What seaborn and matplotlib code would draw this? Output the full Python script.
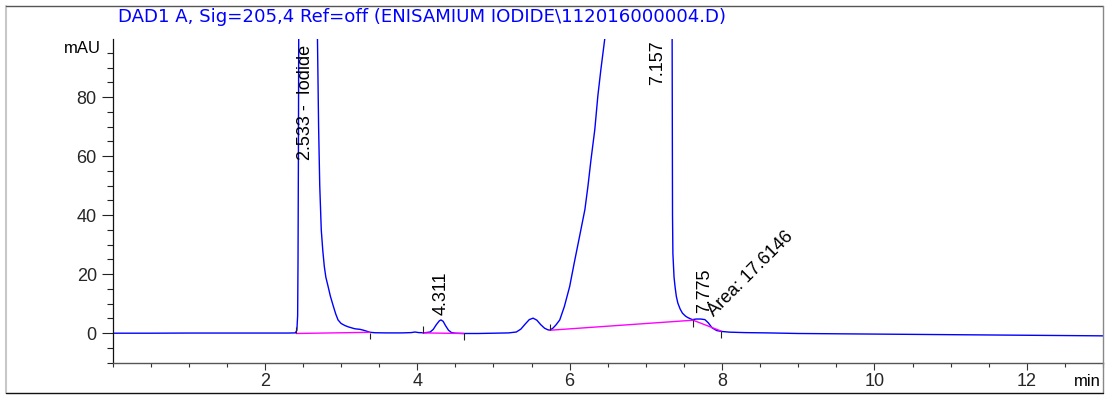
import numpy as np
import pandas as pd
import matplotlib
matplotlib.use("Agg")
import matplotlib.pyplot as plt
from matplotlib.lines import Line2D
from matplotlib.ticker import MultipleLocator
import seaborn as sns

# ---------------- data ----------------
time_min = [0.0, 0.5, 1.0, 1.5, 2.0, 2.3, 2.40, 2.42, 2.43, 2.435, 2.44, 2.445, 2.48, 2.533,
            2.60, 2.66, 2.69, 2.705, 2.72, 2.74, 2.76, 2.78, 2.80, 2.83, 2.86, 2.90, 2.93,
            2.96, 3.00, 3.05, 3.10, 3.18, 3.25, 3.31, 3.38, 3.45, 3.6, 3.8, 3.92, 3.97, 4.02,
            4.10, 4.17, 4.21, 4.25, 4.29, 4.311, 4.34, 4.37, 4.41, 4.45, 4.50, 4.61, 4.8, 5.0,
            5.2, 5.30, 5.36, 5.42, 5.47, 5.52, 5.57, 5.62, 5.67, 5.71, 5.74, 5.78, 5.82, 5.87,
            5.93, 6.00, 6.06, 6.13, 6.20, 6.24, 6.28, 6.33, 6.37, 6.41, 6.46, 6.55, 6.7, 6.9,
            7.05, 7.157, 7.25, 7.32, 7.34, 7.345, 7.35, 7.355, 7.37, 7.384, 7.40, 7.42, 7.45,
            7.48, 7.52, 7.55, 7.61, 7.66, 7.72, 7.775, 7.82, 7.87, 7.93, 7.99, 8.1, 8.3, 8.6,
            9.0, 9.5, 10.0, 10.5, 11.0, 11.5, 12.0, 12.5, 13.0]
signal_mau = [0.0, 0.0, 0.05, 0.05, 0.05, 0.05, 0.1, 1.0, 6.0, 25, 60, 110, 600, 1400,
              700, 250, 100, 70, 50, 35, 28, 22.6, 19, 15.8, 12.5, 9.0, 6.5,
              4.5, 3.3, 2.6, 2.1, 1.5, 1.3, 0.9, 0.3, 0.15, 0.1, 0.1, 0.2, 0.4, 0.2,
              0.15, 0.4, 1.3, 2.9, 4.2, 4.5, 4.0, 2.6, 1.0, 0.2, 0.0, -0.1, -0.1, 0.0,
              0.1, 0.4, 1.4, 3.2, 4.6, 5.1, 4.4, 2.9, 1.7, 1.2, 1.0, 1.7, 2.8, 4.5,
              9.0, 15.8, 23.8, 32.8, 41.9, 49.8, 58.8, 69, 80.4, 89.4, 99.6, 130, 200, 400,
              800, 1500, 1000, 400, 150, 100, 40, 27, 19, 15.6, 12.5, 10.2, 8.2,
              6.8, 5.8, 5.3, 4.6, 4.8, 4.8, 4.6, 3.5, 1.8, 0.9, 0.6, 0.35, 0.2, 0.1,
              -0.1, -0.2, -0.3, -0.4, -0.5, -0.6, -0.7, -0.8, -0.9]

# integration baselines (start/end of each peak)
base_t0 = [2.41, 4.07, 5.74, 7.62]
base_y0 = [-0.1, 0.1, 1.0, 4.4]
base_t1 = [3.38, 4.61, 7.62, 7.99]
base_y1 = [0.3, -0.1, 4.4, 0.7]

# peak event markers
event_t = [2.41, 3.38, 4.07, 4.61, 5.74, 7.62, 7.99]
event_y = [0.0, 0.2, 0.1, -0.1, 1.0, 4.4, 0.7]
event_dir = [1, -1, 1, -1, 1, -1, -1]

# peak annotations
peak_labels = ["2.533 -  Iodide", "4.311", "7.157", "7.775"]
peak_rt = [2.533, 4.311, 7.157, 7.775]
peak_label_y = [58.8, 6.1, 84.0, 6.8]
area_text = "Area: 17.6146"
area_pos = (7.90, 5.6)

title = "DAD1 A, Sig=205,4 Ref=off (ENISAMIUM IODIDE\\112016000004.D)"
y_major = [0, 20, 40, 60, 80]

# ---------------- figure ----------------
sns.set_style("white")
plt.rcParams["font.family"] = ["Liberation Sans", "DejaVu Sans"]

W, H = 1107, 396
fig = plt.figure(figsize=(W / 100, H / 100), dpi=100)
ax = fig.add_axes([112.5 / W, 1 - 363 / H, (1103 - 112.5) / W, (363 - 39) / H])

df = pd.DataFrame({"time": time_min, "signal": signal_mau})
sns.lineplot(data=df, x="time", y="signal", color="#0000ff", lw=1.0,
             estimator=None, sort=False, ax=ax)

for t0, y0, t1, y1 in zip(base_t0, base_y0, base_t1, base_y1):
    seg = pd.DataFrame({"time": [t0, t1], "signal": [y0, y1]})
    sns.lineplot(data=seg, x="time", y="signal", color="#ff00ff", lw=1.0,
                 estimator=None, sort=False, ax=ax)

tick_len = 2.2
for t, y, d in zip(event_t, event_y, event_dir):
    ax.vlines(t, y, y + d * tick_len, color="#222222", lw=0.8)

for lab, rt, ly in zip(peak_labels, peak_rt, peak_label_y):
    ax.text(rt, ly, lab, rotation=90, ha="center", va="bottom", fontsize=13,
            color="black")
ax.text(area_pos[0], area_pos[1], area_text, rotation=45, rotation_mode="anchor",
        ha="left", va="baseline", fontsize=13, color="black")

ax.set_xlim(0, 13)
ax.set_ylim(-10.1, 99.7)
ax.set_xlabel("")
ax.set_ylabel("")

ax.set_xticks([2, 4, 6, 8, 10, 12])
ax.xaxis.set_minor_locator(MultipleLocator(0.5))
ax.set_yticks(y_major)
ax.yaxis.set_minor_locator(MultipleLocator(5))

ax.tick_params(axis="y", which="major", direction="out", length=7.9, width=0.8,
               pad=3.4, labelsize=13, color="#222222", left=True)
ax.tick_params(axis="y", which="minor", direction="out", length=4.3, width=0.8,
               color="#222222", left=True)
ax.tick_params(axis="x", which="major", direction="out", length=4.8, width=0.8,
               pad=2.6, labelsize=13, color="#333333", bottom=True)
ax.tick_params(axis="x", which="minor", direction="out", length=2.9, width=0.8,
               color="#333333", bottom=True)

for s in ["top", "right"]:
    ax.spines[s].set_visible(False)
ax.spines["left"].set_color("#111111")
ax.spines["left"].set_linewidth(0.9)
ax.spines["bottom"].set_color("#555555")
ax.spines["bottom"].set_linewidth(1.0)

ax.text(-0.012, 96.4, "mAU", transform=ax.get_yaxis_transform(), ha="right",
        va="center", fontsize=12, color="black")

fig.text(118 / W, 1 - 17.5 / H, title, ha="left", va="center", fontsize=13.1,
         color="#0000ff", family=["DejaVu Sans"])
fig.text(1101 / W, 1 - 382 / H, "min", ha="right", va="center", fontsize=12,
         color="black")

# outer frame
xl, xr = 6 / W, 1103 / W
yt, yb = 1 - 6 / H, 1 - 393 / H
fig.add_artist(Line2D([xl, xl], [yb, yt], transform=fig.transFigure, color="#c8c8c8", lw=1.5))
fig.add_artist(Line2D([xl, xr], [yt, yt], transform=fig.transFigure, color="#555555", lw=1.0))
fig.add_artist(Line2D([xr, xr], [yb, yt], transform=fig.transFigure, color="#888888", lw=1.0))
fig.add_artist(Line2D([xl, xr], [yb, yb], transform=fig.transFigure, color="#111111", lw=1.0))

fig.savefig("out.png", dpi=100)
